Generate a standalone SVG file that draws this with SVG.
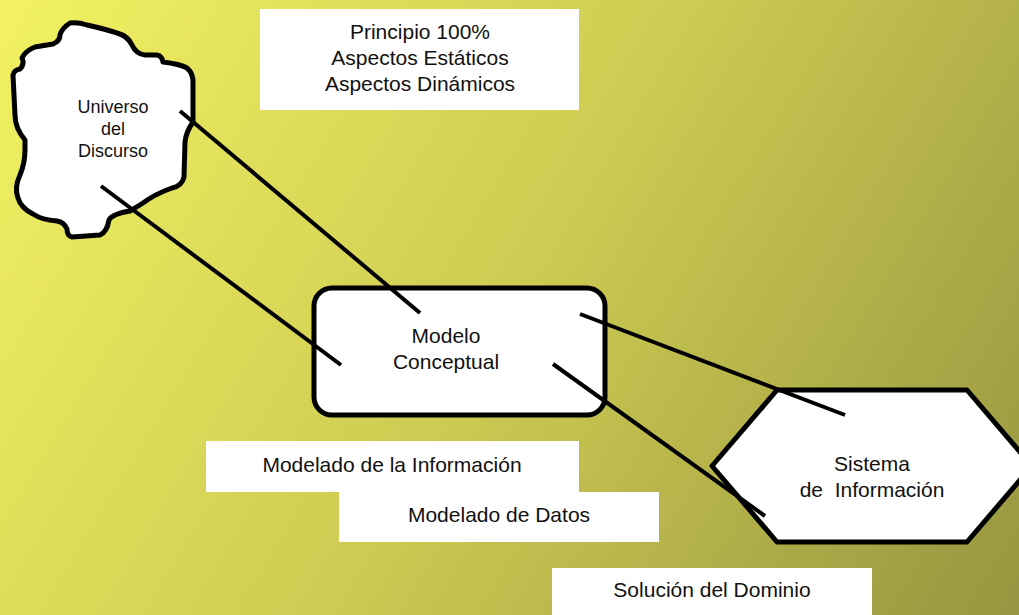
<svg xmlns="http://www.w3.org/2000/svg" width="1019" height="615" viewBox="0 0 1019 615">
  <defs>
    <linearGradient id="bg" x1="0" y1="0" x2="1019" y2="615" gradientUnits="userSpaceOnUse">
      <stop offset="0" stop-color="#F2F263"/>
      <stop offset="0.5" stop-color="#CDCB52"/>
      <stop offset="1" stop-color="#979540"/>
    </linearGradient>
    <style>
      .shape { fill: #FFFFFF; stroke: #000000; stroke-width: 5; stroke-linejoin: round; }
      .box { fill: #FFFFFF; stroke: none; }
      .lbl { font-family: "Liberation Sans", Arial, sans-serif; font-size: 21px; fill: #111111; text-anchor: middle; }
      .small { font-size: 18px; }
      .conn { stroke: #000000; stroke-width: 4; fill: none; }
    </style>
  </defs>
  <rect x="0" y="0" width="1019" height="615" fill="url(#bg)"/>

  <g id="universo">
    <path class="shape" d="M70,23 Q78,22 87,25 Q105,29 117,33 Q128,36 132,45 Q136,54 145,55 L157,55 Q162,56 163,62 Q180,64 187,68 Q194,74 193,85 L193,122 Q186,132 185,142 L184,177 Q182,186 172,188 Q155,194 143,203 Q135,208 130,211 Q112,214 109,220 Q107,232 100,235 L72,237 Q67,236 67,229 Q64,222 57,221 Q42,220 33,214 Q21,208 18,198 Q14,188 20,175 Q25,163 25,150 L25,140 Q15,128 15,115 L13,75 Q14,70 20,69 Q25,64 22,58 Q25,51 35,47 L53,44 Q60,41 60,35 Q62,28 70,23 Z"/>
    <text class="lbl small" x="113" y="113">Universo</text>
    <text class="lbl small" x="113" y="135">del</text>
    <text class="lbl small" x="113" y="157">Discurso</text>
  </g>

  <g id="principio">
    <rect class="box" x="260" y="9" width="319" height="101"/>
    <text class="lbl" x="420" y="39">Principio 100%</text>
    <text class="lbl" x="420" y="65">Aspectos Estáticos</text>
    <text class="lbl" x="420" y="91">Aspectos Dinámicos</text>
  </g>

  <g id="modelo">
    <rect class="shape" x="314" y="288" width="291" height="127" rx="18" ry="18"/>
    <text class="lbl" x="446" y="343">Modelo</text>
    <text class="lbl" x="446" y="369">Conceptual</text>
  </g>

  <g id="sistema">
    <polygon class="shape" points="777,390 967,390 1032,466 967,542 777,542 712,466" stroke-linejoin="miter"/>
    <text class="lbl" x="872" y="471">Sistema</text>
    <text class="lbl" x="872" y="497" xml:space="preserve">de  Información</text>
  </g>

  <g id="modelado-info">
    <rect class="box" x="206" y="441" width="373" height="51"/>
    <text class="lbl" x="392" y="472">Modelado de la Información</text>
  </g>

  <g id="modelado-datos">
    <rect class="box" x="339" y="492" width="320" height="50"/>
    <text class="lbl" x="499" y="522">Modelado de Datos</text>
  </g>

  <g id="solucion">
    <rect class="box" x="552" y="568" width="320" height="47"/>
    <text class="lbl" x="712" y="597">Solución del Dominio</text>
  </g>

  <g id="connectors">
    <line class="conn" x1="180" y1="111" x2="420" y2="313"/>
    <line class="conn" x1="101" y1="186" x2="341" y2="365"/>
    <line class="conn" x1="580" y1="314" x2="845" y2="415"/>
    <line class="conn" x1="553" y1="364" x2="765" y2="516"/>
  </g>
</svg>
